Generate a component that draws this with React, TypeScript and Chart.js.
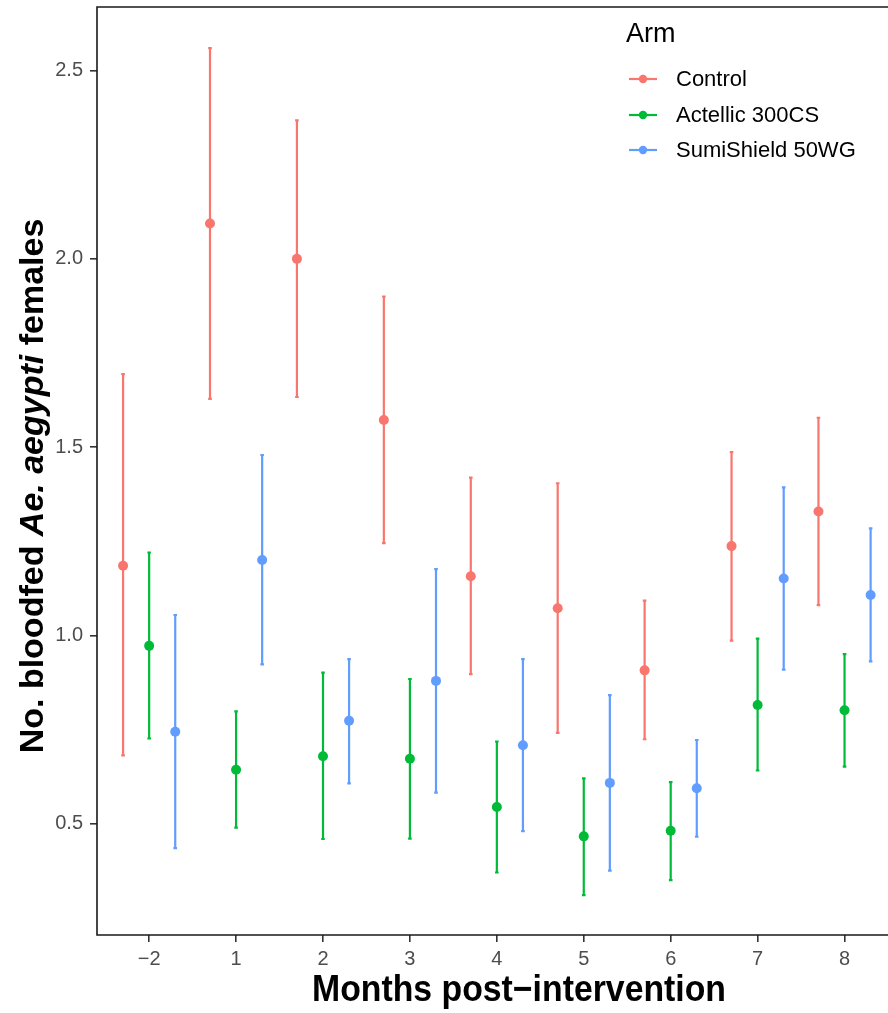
import React, { useEffect, useRef } from "react";
import { Chart, registerables } from "chart.js";

Chart.register(...registerables);

const categories = ["\u22122", "1", "2", "3", "4", "5", "6", "7", "8"];
const armNames = ["Control", "Actellic 300CS", "SumiShield 50WG"];
const armColors = ["#F8766D", "#00BA38", "#619CFF"];

const controlMean = [1.185, 2.094, 2.0, 1.572, 1.157, 1.072, 0.907, 1.237, 1.329];
const controlLower = [0.681, 1.628, 1.633, 1.245, 0.897, 0.741, 0.724, 0.986, 1.08];
const controlUpper = [1.694, 2.56, 2.368, 1.9, 1.419, 1.404, 1.092, 1.487, 1.578];

const actellicMean = [0.972, 0.643, 0.679, 0.672, 0.544, 0.466, 0.481, 0.815, 0.801];
const actellicLower = [0.726, 0.489, 0.459, 0.46, 0.37, 0.31, 0.35, 0.641, 0.651];
const actellicUpper = [1.22, 0.798, 0.901, 0.884, 0.718, 0.62, 0.61, 0.991, 0.95];

const sumiMean = [0.744, 1.2, 0.773, 0.879, 0.708, 0.608, 0.594, 1.151, 1.107];
const sumiLower = [0.435, 0.923, 0.607, 0.582, 0.48, 0.375, 0.465, 0.909, 0.931];
const sumiUpper = [1.054, 1.479, 0.937, 1.176, 0.937, 0.841, 0.722, 1.393, 1.284];

const yTicks = [0.5, 1.0, 1.5, 2.0, 2.5];

const FONT = "'Liberation Sans', Arial, sans-serif";
const DODGE = 0.3;

const means = [controlMean, actellicMean, sumiMean];
const lowers = [controlLower, actellicLower, sumiLower];
const uppers = [controlUpper, actellicUpper, sumiUpper];

const errorBarPlugin = {
  id: "errorBars",
  beforeDatasetsDraw(chart: any) {
    const ctx = chart.ctx;
    const xs = chart.scales.x;
    const ys = chart.scales.y;
    ctx.save();
    ctx.lineWidth = 2.2;
    ctx.lineCap = "butt";
    for (let a = 0; a < 3; a++) {
      ctx.strokeStyle = armColors[a];
      for (let i = 0; i < categories.length; i++) {
        const x = xs.getPixelForValue(i + (a - 1) * DODGE);
        const y1 = ys.getPixelForValue(lowers[a][i]);
        const y2 = ys.getPixelForValue(uppers[a][i]);
        ctx.beginPath();
        ctx.moveTo(x, y1);
        ctx.lineTo(x, y2);
        ctx.moveTo(x - 1.8, y1);
        ctx.lineTo(x + 1.8, y1);
        ctx.moveTo(x - 1.8, y2);
        ctx.lineTo(x + 1.8, y2);
        ctx.stroke();
      }
    }
    ctx.restore();
  },
};

const decorPlugin = {
  id: "decor",
  afterDraw(chart: any) {
    const ctx = chart.ctx;
    const { left, right, top, bottom } = chart.chartArea;
    ctx.save();
    // panel border (top, left, bottom)
    ctx.strokeStyle = "#1a1a1a";
    ctx.lineWidth = 1.6;
    ctx.beginPath();
    ctx.moveTo(right + 10, top);
    ctx.lineTo(left, top);
    ctx.lineTo(left, bottom);
    ctx.lineTo(right + 10, bottom);
    ctx.stroke();

    // y title
    ctx.fillStyle = "#000";
    ctx.save();
    ctx.translate(43, 486);
    ctx.rotate(-Math.PI / 2);
    ctx.textBaseline = "alphabetic";
    const parts = [
      { t: "No. bloodfed ", f: `bold 34px ${FONT}` },
      { t: "Ae. aegypti", f: `italic bold 34px ${FONT}` },
      { t: " females", f: `bold 34px ${FONT}` },
    ];
    let total = 0;
    for (const p of parts) {
      ctx.font = p.f;
      total += ctx.measureText(p.t).width;
    }
    let cx = -total / 2;
    ctx.textAlign = "left";
    for (const p of parts) {
      ctx.font = p.f;
      ctx.fillText(p.t, cx, 0);
      cx += ctx.measureText(p.t).width;
    }
    ctx.restore();

    // x title (slightly condensed, as in the reference)
    ctx.save();
    ctx.font = `bold 37px ${FONT}`;
    ctx.textAlign = "center";
    ctx.textBaseline = "alphabetic";
    const xt = "Months post\u2212intervention";
    const w = ctx.measureText(xt).width;
    ctx.translate(519, 1001);
    ctx.scale(414 / w, 1);
    ctx.fillText(xt, 0, 0);
    ctx.restore();

    // legend
    ctx.fillStyle = "#000";
    ctx.textAlign = "left";
    ctx.textBaseline = "alphabetic";
    ctx.font = `27px ${FONT}`;
    ctx.fillText("Arm", 626, 42);
    const rows = [79, 115, 150];
    ctx.font = `22px ${FONT}`;
    ctx.textBaseline = "middle";
    for (let a = 0; a < 3; a++) {
      const y = rows[a];
      ctx.strokeStyle = armColors[a];
      ctx.lineWidth = 2.2;
      ctx.beginPath();
      ctx.moveTo(629, y);
      ctx.lineTo(657, y);
      ctx.stroke();
      ctx.fillStyle = armColors[a];
      ctx.beginPath();
      ctx.arc(643, y, 4.2, 0, Math.PI * 2);
      ctx.fill();
      ctx.fillStyle = "#000";
      ctx.fillText(armNames[a], 676, y + 1);
    }
    ctx.restore();
  },
};

export default function App() {
  const ref = useRef<HTMLCanvasElement | null>(null);
  useEffect(() => {
    if (!ref.current) return;
    const datasets = means.map((m, a) => ({
      label: armNames[a],
      data: m.map((v, i) => ({ x: i + (a - 1) * DODGE, y: v })),
      backgroundColor: armColors[a],
      borderColor: armColors[a],
      pointRadius: 5,
      pointBorderWidth: 0,
      pointHoverRadius: 5,
      showLine: false,
    }));
    const chart = new Chart(ref.current, {
      type: "scatter",
      data: { datasets },
      options: {
        animation: false,
        responsive: false,
        events: [],
        layout: { autoPadding: false, padding: { top: 7, left: 0, right: 0, bottom: 0 } },
        plugins: { legend: { display: false }, title: { display: false }, tooltip: { enabled: false } },
        scales: {
          x: {
            type: "linear",
            min: -0.6,
            max: 8.5,
            afterFit(s: any) {
              s.height = 78;
              s.paddingLeft = 0;
              s.paddingRight = 0;
            },
            afterBuildTicks(s: any) {
              s.ticks = categories.map((_, i) => ({ value: i }));
            },
            ticks: {
              autoSkip: false,
              maxRotation: 0,
              padding: 5,
              color: "#4D4D4D",
              font: { family: FONT, size: 20 },
              callback: (v: any) => categories[Math.round(Number(v))] ?? "",
            },
            grid: { drawOnChartArea: false, drawTicks: true, tickLength: 7, color: "#333", lineWidth: 1.6 },
            border: { display: false },
          },
          y: {
            type: "linear",
            min: 0.204,
            max: 2.669,
            afterFit(s: any) {
              s.width = 97;
              s.paddingTop = 0;
              s.paddingBottom = 0;
            },
            afterBuildTicks(s: any) {
              s.ticks = yTicks.map((v) => ({ value: v }));
            },
            ticks: {
              padding: 7,
              color: "#4D4D4D",
              font: { family: FONT, size: 20 },
              callback: (v: any) => Number(v).toFixed(1),
            },
            grid: { drawOnChartArea: false, drawTicks: true, tickLength: 7, color: "#333", lineWidth: 1.6 },
            border: { display: false },
          },
        },
      },
      plugins: [errorBarPlugin, decorPlugin],
    });
    return () => chart.destroy();
  }, []);
  return (
    <div style={{ position: "fixed", left: 0, top: 0, width: 888, height: 1013, background: "#fff" }}>
      <canvas ref={ref} width={888} height={1013} />
    </div>
  );
}
